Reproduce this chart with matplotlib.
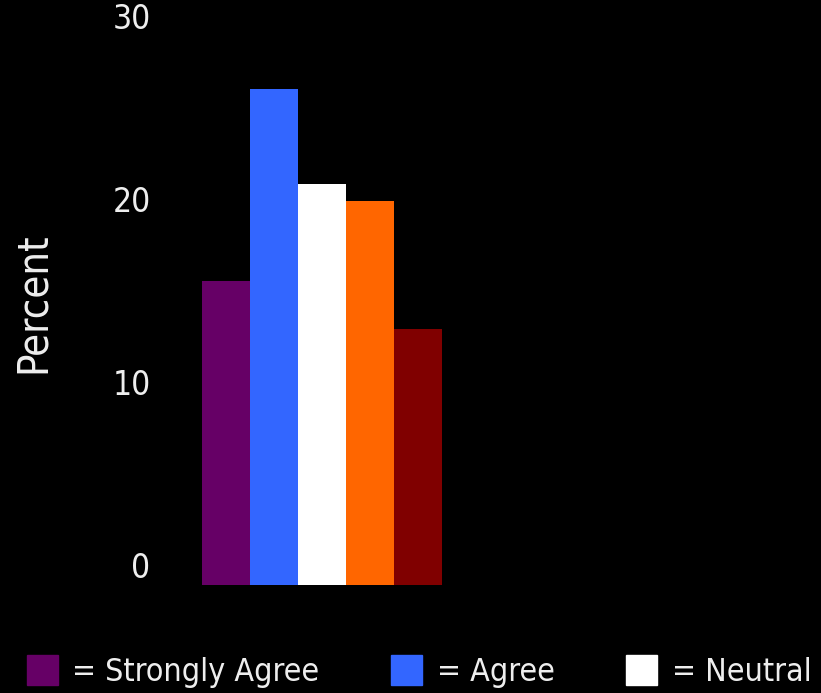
import matplotlib
matplotlib.use('Agg')
import matplotlib.pyplot as plt
from matplotlib.patches import Patch

# survey answers, percent
categories = ['Strongly Agree', 'Agree', 'Neutral', 'Disagree', 'Strongly Disagree']
percent = [16.6, 27.1, 21.9, 21.0, 14.0]
colors = ['#660066', '#3366ff', '#ffffff', '#ff6600', '#800000']
yticks = [0, 10, 20, 30]
n_legend = 3  # only the first three entries fit on the slide

plt.rcParams['font.family'] = ['DejaVu Sans']
plt.rcParams['font.stretch'] = 'condensed'
txt = '#eeeeee'

fig = plt.figure(figsize=(8.21, 6.93), dpi=100, facecolor='black')
ax = fig.add_axes([202 / 821, 108 / 693, 240 / 821, 549 / 693])
ax.set_facecolor('black')

for i, (cat, val, col) in enumerate(zip(categories, percent, colors)):
    ax.bar(i, val, width=1.0, color=col)

ax.set_xlim(-0.5, 4.5)
ax.set_ylim(0, 30)
ax.set_xticks([])
ax.set_yticks(yticks)
ax.set_yticklabels([str(t) for t in yticks])
ax.tick_params(axis='y', length=0, pad=37, labelsize=24, labelcolor=txt)
for lab in ax.get_yticklabels():
    lab.set_va('bottom')
for s in ax.spines.values():
    s.set_visible(False)

fig.text(33 / 821, 1 - 303 / 693, 'Percent', rotation=90, color=txt,
         fontsize=30, ha='center', va='center')

handles = [Patch(color=c) for c in colors[:n_legend]]
labels = ['= ' + c for c in categories[:n_legend]]
fig.legend(handles, labels, loc='lower left', bbox_to_anchor=(27 / 821, 5 / 693),
           ncol=n_legend, frameon=False, fontsize=23, labelcolor=txt,
           handlelength=0.97, handleheight=1.03, handletextpad=0.45,
           columnspacing=2.25, borderaxespad=0, borderpad=0)

fig.savefig('out.png', dpi=100, facecolor='black')
